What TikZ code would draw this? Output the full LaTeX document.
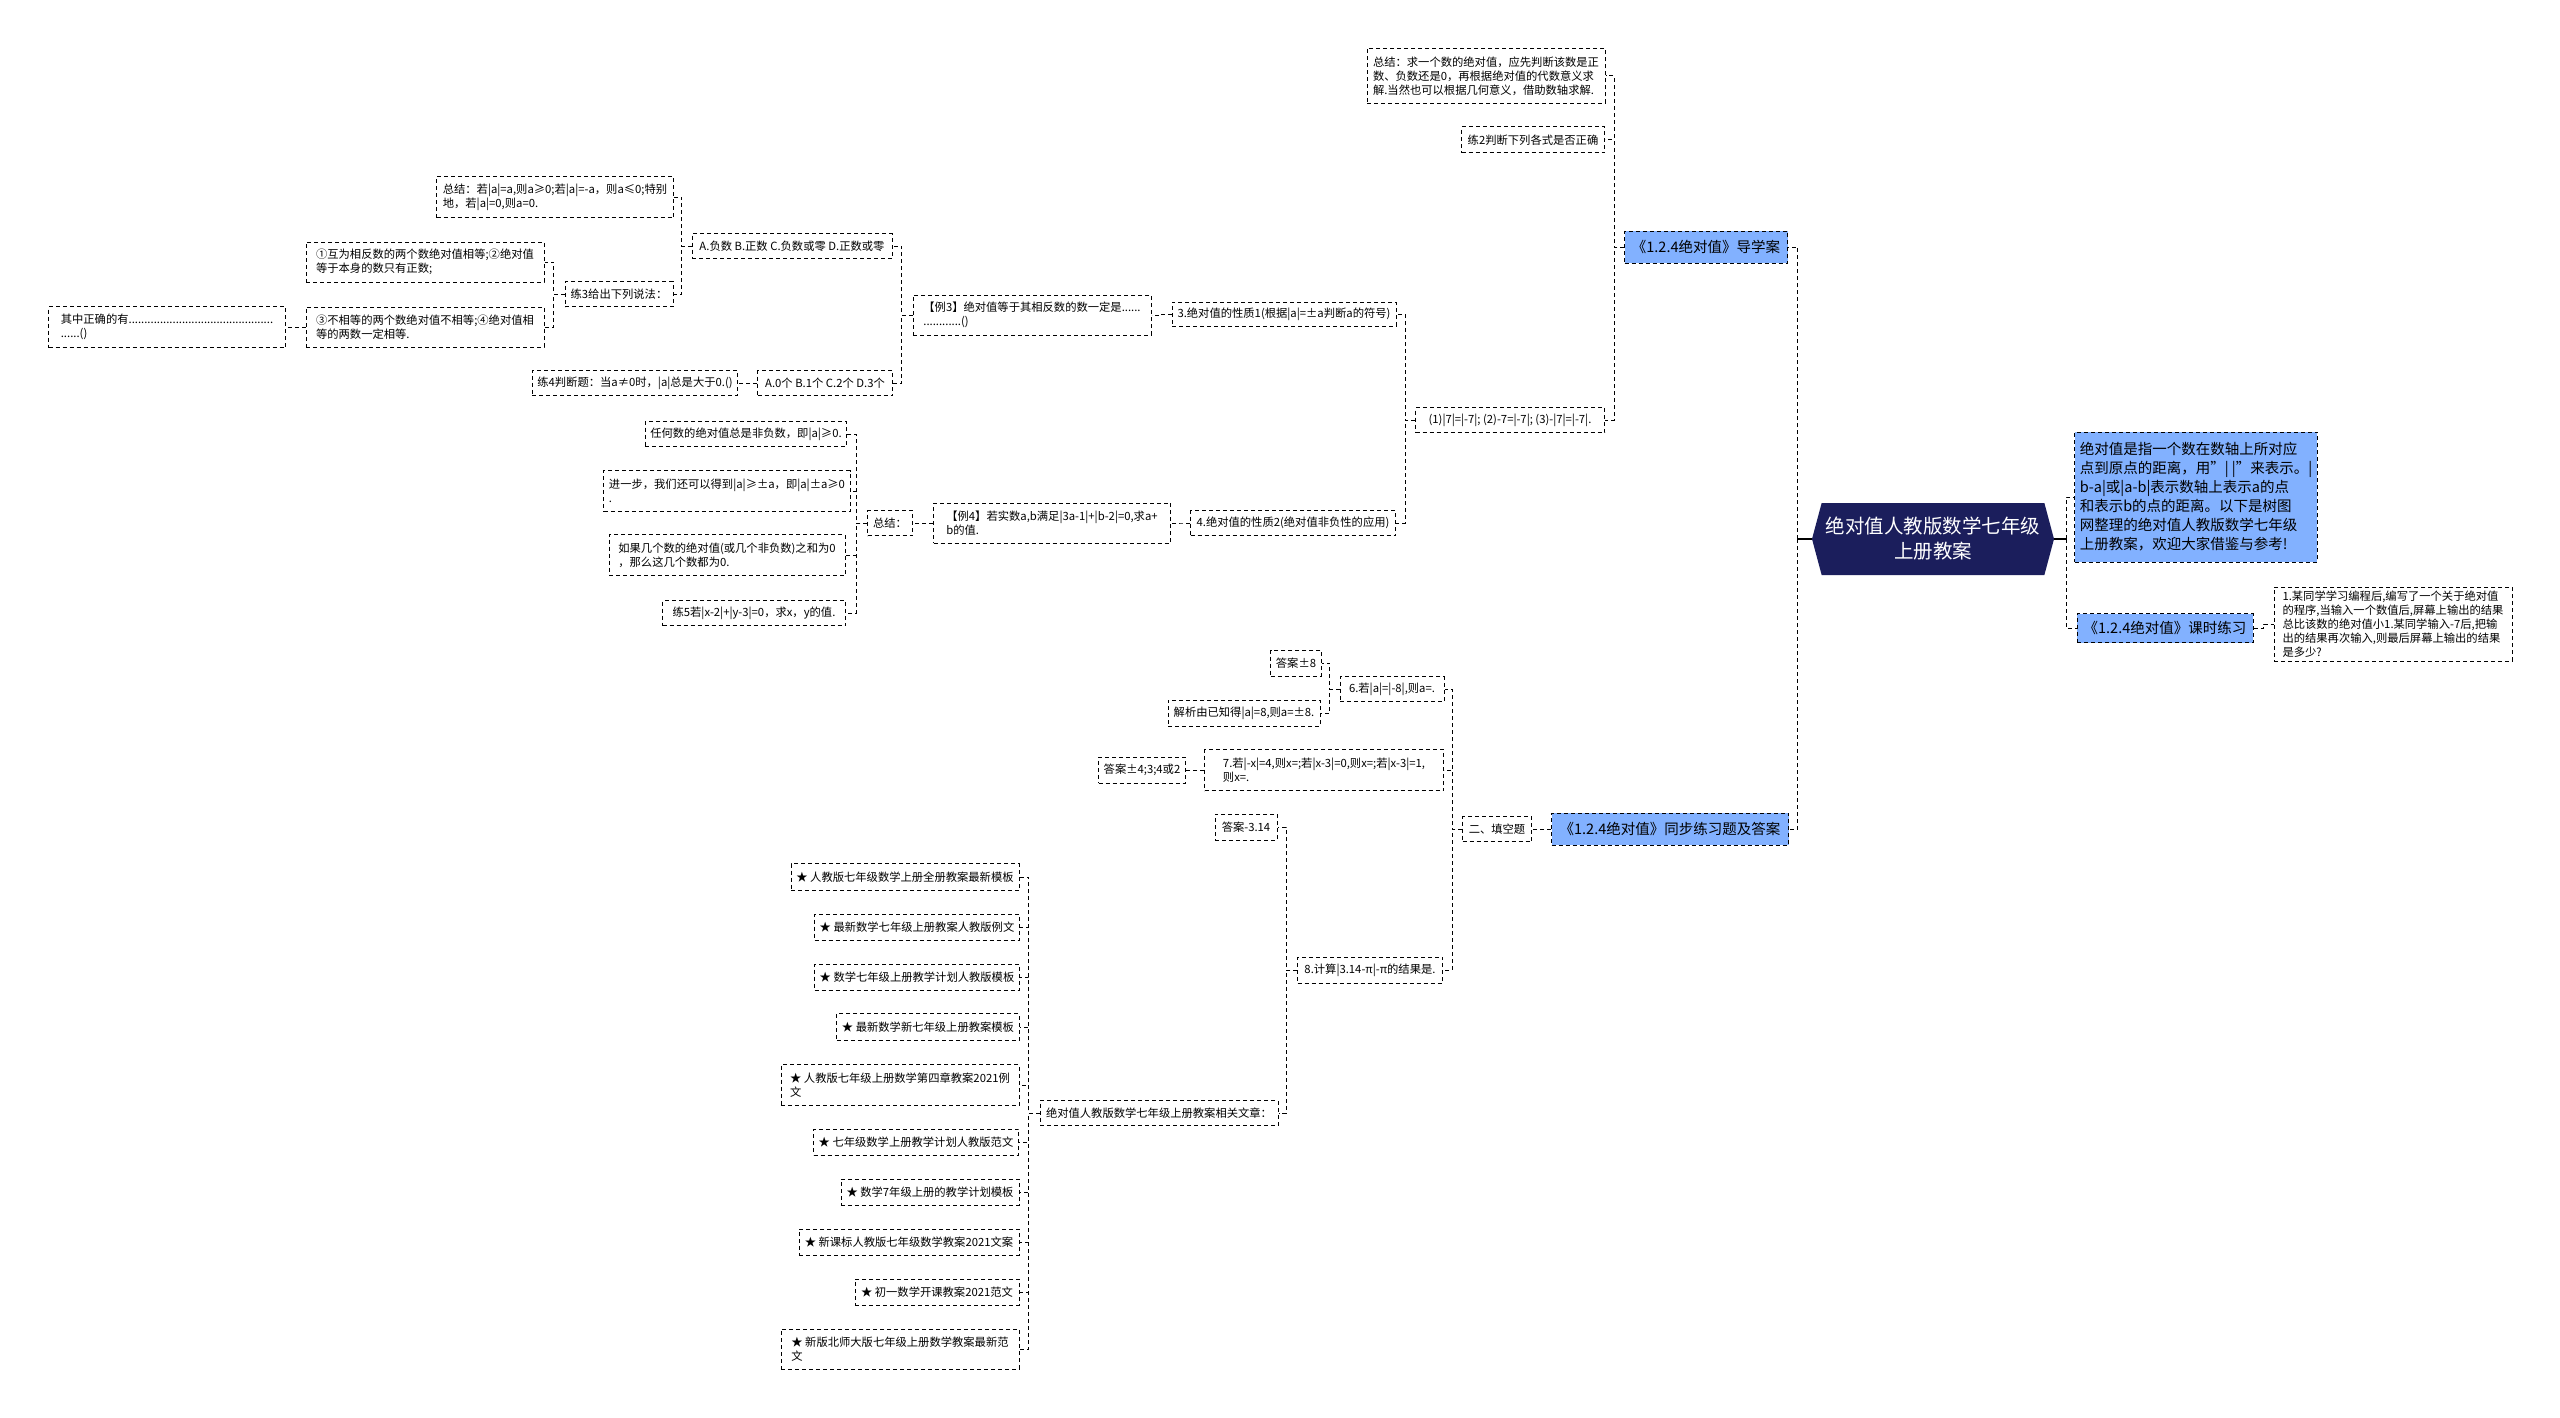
\documentclass[tikz,border=0pt]{standalone}
\usepackage{fontspec}
\setmainfont{Noto Sans CJK SC}
\usepackage{xcolor}
\usepackage{tikz}
\usetikzlibrary{positioning, shapes.symbols}
\definecolor{topicblue}{HTML}{82B1FF}
\definecolor{rootnavy}{HTML}{1B1E5C}

\begin{document}
\begin{tikzpicture}[
    x=1pt, y=-1pt,
    leaf/.style={draw, dash pattern=on 4pt off 3pt, line width=1pt, inner xsep=5pt, inner ysep=2pt, align=left, font=\fontsize{11.3}{14}\selectfont},
    topic/.style={leaf, fill=topicblue, font=\fontsize{14.5}{19}\selectfont},
    mainidea/.style={signal, signal to=west and east, signal pointer angle=150, fill=rootnavy, text=white, align=center, font=\fontsize{19.5}{25}\selectfont},
    sz/.style 2 args={minimum width=#1, minimum height=#2},
    link/.style={dash pattern=on 4pt off 3pt, line width=1pt},
    stub/.style={line width=1.3pt},
]
\fill[white] (0,0) rectangle (2560,1418);

% Centre
\node[mainidea, sz={242}{72}] (root) at (1933,539) {绝对值人教版数学七年级\\上册教案};

% Right side
\node[topic, sz={239}{130}] (intro) at (2196,497) {绝对值是指一个数在数轴上所对应\\点到原点的距离，用"| |"来表示。|\\b-a|或|a-b|表示数轴上表示a的点\\和表示b的点的距离。以下是树图\\网整理的绝对值人教版数学七年级\\上册教案，欢迎大家借鉴与参考!};
\node[topic, sz={176}{29}] (keshi) at (2165,628) {《1.2.4绝对值》课时练习};
\node[leaf, sz={238}{74}] (prac1) at (2393,624) {1.某同学学习编程后,编写了一个关于绝对值\\的程序,当输入一个数值后,屏幕上输出的结果\\总比该数的绝对值小1.某同学输入-7后,把输\\出的结果再次输入,则最后屏幕上输出的结果\\是多少?};

% Upper branch
\node[topic, sz={163}{32}] (daoxue) at (1706,247) {《1.2.4绝对值》导学案};
\node[leaf, sz={238}{55}] (sum1) at (1486,76) {总结：求一个数的绝对值，应先判断该数是正\\数、负数还是0，再根据绝对值的代数意义求\\解.当然也可以根据几何意义，借助数轴求解.};
\node[leaf, sz={143}{26}] (lian2) at (1533,140) {练2判断下列各式是否正确};
\node[leaf, sz={189}{25}] (seven) at (1510,420) {(1)|7|=|-7|; (2)-7=|-7|; (3)-|7|=|-7|.};
\node[leaf, sz={224}{24}] (prop1) at (1284,314) {3.绝对值的性质1(根据|a|=±a判断a的符号)};
\node[leaf, sz={205}{25}] (prop2) at (1293,523) {4.绝对值的性质2(绝对值非负性的应用)};

% Property 1
\node[leaf, sz={238}{40}] (ex3) at (1032,315) {【例3】绝对值等于其相反数的数一定是......\\............()};
\node[leaf, sz={200}{25}] (optA) at (792,246) {A.负数 B.正数 C.负数或零 D.正数或零};
\node[leaf, sz={135}{25}] (optB) at (825,383) {A.0个 B.1个 C.2个 D.3个};
\node[leaf, sz={205}{25}] (lian4) at (635,383) {练4判断题：当a≠0时，|a|总是大于0.()};
\node[leaf, sz={237}{41}] (sum2) at (555,197) {总结：若|a|=a,则a≥0;若|a|=-a，则a≤0;特别\\地，若|a|=0,则a=0.};
\node[leaf, sz={108}{25}] (lian3) at (619,294) {练3给出下列说法：};
\node[leaf, sz={238}{40}] (st1) at (425,262) {①互为相反数的两个数绝对值相等;②绝对值\\等于本身的数只有正数;};
\node[leaf, sz={238}{40}] (st2) at (425,327) {③不相等的两个数绝对值不相等;④绝对值相\\等的两数一定相等.};
\node[leaf, sz={237}{41}] (qz) at (167,327) {其中正确的有..............................................\\......()};

% Property 2
\node[leaf, sz={237}{40}] (ex4) at (1052,523) {【例4】若实数a,b满足|3a-1|+|b-2|=0,求a+\\b的值.};
\node[leaf, sz={45}{25}] (sumz) at (890,523) {总结：};
\node[leaf, sz={199}{25}] (r1) at (746,434) {任何数的绝对值总是非负数，即|a|≥0.};
\node[leaf, sz={236}{41}] (r2) at (727,491) {进一步，我们还可以得到|a|≥±a，即|a|±a≥0\\.};
\node[leaf, sz={236}{41}] (r3) at (727,555) {如果几个数的绝对值(或几个非负数)之和为0\\，那么这几个数都为0.};
\node[leaf, sz={183}{25}] (lian5) at (754,613) {练5若|x-2|+|y-3|=0，求x，y的值.};

% Lower branch
\node[topic, sz={237}{32}] (tongbu) at (1670,829) {《1.2.4绝对值》同步练习题及答案};
\node[leaf, sz={69}{25}] (tk) at (1497,829) {二、填空题};
\node[leaf, sz={104}{25}] (q6) at (1392,689) {6.若|a|=|-8|,则a=.};
\node[leaf, sz={49}{26}] (ans8) at (1296,663) {答案±8};
\node[leaf, sz={152}{26}] (jx) at (1244,713) {解析由已知得|a|=8,则a=±8.};
\node[leaf, sz={239}{41}] (q7) at (1324,770) {7.若|-x|=4,则x=;若|x-3|=0,则x=;若|x-3|=1,\\则x=.};
\node[leaf, sz={86}{26}] (ans7) at (1142,770) {答案±4;3;4或2};
\node[leaf, sz={145}{26}] (q8) at (1370,970) {8.计算|3.14-π|-π的结果是.};
\node[leaf, sz={62}{26}] (ans314) at (1246,827) {答案-3.14};
\node[leaf, sz={238}{25}] (rel) at (1159,1113) {绝对值人教版数学七年级上册教案相关文章：};

% Related articles
\node[leaf, sz={228}{27}] (s1) at (905,877) {★ 人教版七年级数学上册全册教案最新模板};
\node[leaf, sz={204}{26}] (s2) at (917,927) {★ 最新数学七年级上册教案人教版例文};
\node[leaf, sz={204}{26}] (s3) at (917,977) {★ 数学七年级上册教学计划人教版模板};
\node[leaf, sz={182}{27}] (s4) at (928,1027) {★ 最新数学新七年级上册教案模板};
\node[leaf, sz={238}{41}] (s5) at (900,1085) {★ 人教版七年级上册数学第四章教案2021例\\文};
\node[leaf, sz={205}{26}] (s6) at (916,1142) {★ 七年级数学上册教学计划人教版范文};
\node[leaf, sz={178}{26}] (s7) at (930,1192) {★ 数学7年级上册的教学计划模板};
\node[leaf, sz={220}{26}] (s8) at (909,1242) {★ 新课标人教版七年级数学教案2021文案};
\node[leaf, sz={164}{26}] (s9) at (937,1292) {★ 初一数学开课教案2021范文};
\node[leaf, sz={238}{40}] (s10) at (900,1349) {★ 新版北师大版七年级上册数学教案最新范\\文};

% Links from the centre
\draw[stub] (root.west) -- ++(-14,0) coordinate (rootL);
\draw[link] (rootL) |- (daoxue.east);
\draw[link] (rootL) |- (tongbu.east);
\draw[stub] (root.east) -- ++(12,0) coordinate (rootR);
\draw[link] (rootR) |- (intro.west);
\draw[link] (rootR) |- (keshi.west);
\draw[link] (keshi.east) -- ++(10,0) |- (prac1.west);

% Upper links
\draw[link] (daoxue.west) -- ++(-10,0) |- (sum1.east);
\draw[link] (daoxue.west) -- ++(-10,0) |- (lian2.east);
\draw[link] (daoxue.west) -- ++(-10,0) |- (seven.east);
\draw[link] (seven.west) -- ++(-10,0) |- (prop1.east);
\draw[link] (seven.west) -- ++(-10,0) |- (prop2.east);
\draw[link] (prop1.west) -- ++(-10,0) |- (ex3.east);
\draw[link] (ex3.west) -- ++(-11,0) |- (optA.east);
\draw[link] (ex3.west) -- ++(-11,0) |- (optB.east);
\draw[link] (optA.west) -- ++(-10,0) |- (sum2.east);
\draw[link] (optA.west) -- ++(-10,0) |- (lian3.east);
\draw[link] (lian3.west) -- ++(-11,0) |- (st1.east);
\draw[link] (lian3.west) -- ++(-11,0) |- (st2.east);
\draw[link] (st2.west) -- (qz.east);
\draw[link] (optB.west) -- (lian4.east);
\draw[link] (prop2.west) -- ++(-10,0) |- (ex4.east);
\draw[link] (ex4.west) -- (sumz.east);
\draw[link] (sumz.west) -- ++(-11,0) |- (r1.east);
\draw[link] (sumz.west) -- ++(-11,0) |- (r2.east);
\draw[link] (sumz.west) -- ++(-11,0) |- (r3.east);
\draw[link] (sumz.west) -- ++(-11,0) |- (lian5.east);

% Lower links
\draw[link] (tongbu.west) -- (tk.east);
\draw[link] (tk.west) -- ++(-10,0) |- (q6.east);
\draw[link] (tk.west) -- ++(-10,0) |- (q7.east);
\draw[link] (tk.west) -- ++(-10,0) |- (q8.east);
\draw[link] (q6.west) -- ++(-10,0) |- (ans8.east);
\draw[link] (q6.west) -- ++(-10,0) |- (jx.east);
\draw[link] (q7.west) -- (ans7.east);
\draw[link] (q8.west) -- ++(-11,0) |- (ans314.east);
\draw[link] (q8.west) -- ++(-11,0) |- (rel.east);
\draw[link] (rel.west) -- ++(-11,0) |- (s1.east);
\draw[link] (rel.west) -- ++(-11,0) |- (s2.east);
\draw[link] (rel.west) -- ++(-11,0) |- (s3.east);
\draw[link] (rel.west) -- ++(-11,0) |- (s4.east);
\draw[link] (rel.west) -- ++(-11,0) |- (s5.east);
\draw[link] (rel.west) -- ++(-11,0) |- (s6.east);
\draw[link] (rel.west) -- ++(-11,0) |- (s7.east);
\draw[link] (rel.west) -- ++(-11,0) |- (s8.east);
\draw[link] (rel.west) -- ++(-11,0) |- (s9.east);
\draw[link] (rel.west) -- ++(-11,0) |- (s10.east);
\end{tikzpicture}
\end{document}
